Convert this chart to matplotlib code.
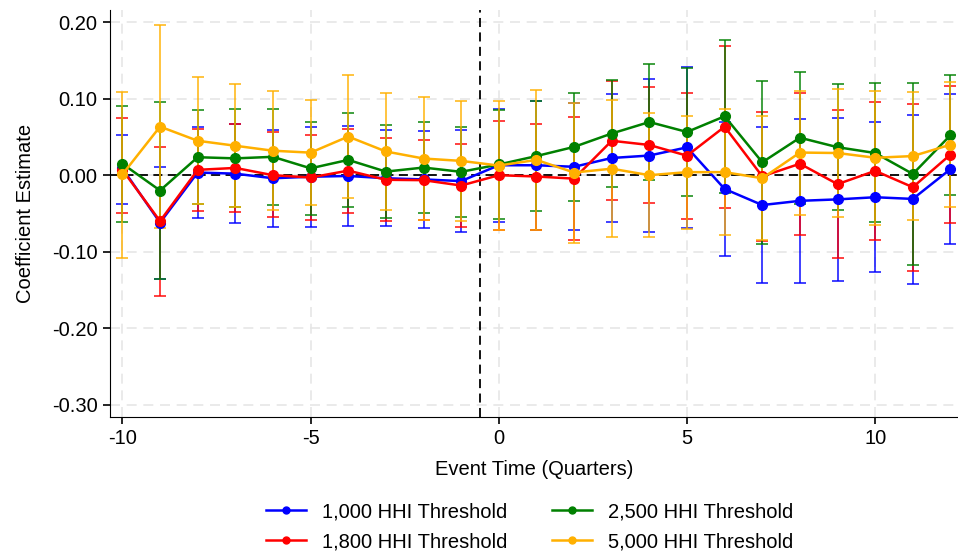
import numpy as np
import matplotlib
matplotlib.use("Agg")
import matplotlib.pyplot as plt
from matplotlib.lines import Line2D

plt.rcParams['font.family'] = ['Liberation Sans', 'DejaVu Sans']
plt.rcParams['axes.unicode_minus'] = False

event_time = list(range(-10, 13))

# point estimates
coef_1000 = [0.009, -0.062, 0.0035, 0.002, -0.004, -0.002, -0.001, -0.004, -0.0055, -0.0077,
             0.013, 0.013, 0.011, 0.0225, 0.0257, 0.0364, -0.018, -0.039, -0.0335, -0.0316,
             -0.0288, -0.031, 0.008]
coef_1800 = [0.007, -0.060, 0.007, 0.0095, 0.0, -0.003, 0.006, -0.006, -0.0065, -0.0135,
             0.0, -0.0017, -0.0045, 0.045, 0.0395, 0.0255, 0.0634, -0.0015, 0.015, -0.0117,
             0.0057, -0.0157, 0.027]
coef_2500 = [0.015, -0.020, 0.0235, 0.022, 0.024, 0.009, 0.020, 0.0047, 0.010, 0.0044,
             0.014, 0.025, 0.037, 0.0545, 0.0695, 0.0565, 0.077, 0.0169, 0.049, 0.0366,
             0.029, 0.0016, 0.0523]
coef_5000 = [0.001, 0.0635, 0.045, 0.0385, 0.032, 0.0295, 0.0505, 0.031, 0.0218, 0.0187,
             0.0126, 0.020, 0.0035, 0.0085, 0.0, 0.004, 0.004, -0.004, 0.0296, 0.029,
             0.0228, 0.025, 0.0399]

# confidence interval bounds
hi_1000 = [0.052, 0.011, 0.063, 0.0667, 0.059, 0.063, 0.064, 0.059, 0.058, 0.059,
           0.087, 0.097, 0.094, 0.106, 0.1255, 0.1416, 0.0697, 0.063, 0.074, 0.0745,
           0.0693, 0.0793, 0.106]
lo_1000 = [-0.037, -0.136, -0.056, -0.062, -0.0675, -0.0675, -0.0667, -0.066, -0.069, -0.074,
           -0.061, -0.071, -0.072, -0.061, -0.074, -0.0689, -0.1055, -0.141, -0.141, -0.1377,
           -0.1268, -0.142, -0.090]
hi_1800 = [0.0745, 0.037, 0.061, 0.0675, 0.056, 0.053, 0.061, 0.048, 0.0457, 0.0405,
           0.0706, 0.0675, 0.076, 0.1233, 0.115, 0.1076, 0.1695, 0.0828, 0.1076, 0.085,
           0.0958, 0.0932, 0.1163]
lo_1800 = [-0.050, -0.158, -0.047, -0.048, -0.055, -0.059, -0.049, -0.0597, -0.059, -0.0675,
           -0.071, -0.071, -0.085, -0.0327, -0.036, -0.0566, -0.0427, -0.0858, -0.0776, -0.1085,
           -0.0845, -0.1246, -0.0623]
hi_2500 = [0.091, 0.096, 0.085, 0.086, 0.087, 0.070, 0.081, 0.065, 0.0697, 0.063,
           0.085, 0.097, 0.1076, 0.125, 0.1455, 0.140, 0.1765, 0.1237, 0.135, 0.119,
           0.120, 0.120, 0.1307]
lo_2500 = [-0.061, -0.136, -0.038, -0.042, -0.039, -0.052, -0.041, -0.0558, -0.049, -0.0545,
           -0.0575, -0.047, -0.0335, -0.016, -0.0065, -0.027, -0.0227, -0.090, -0.037, -0.0457,
           -0.0614, -0.1168, -0.026]
hi_5000 = [0.109, 0.196, 0.128, 0.119, 0.110, 0.098, 0.131, 0.1076, 0.102, 0.097,
           0.097, 0.111, 0.095, 0.098, 0.081, 0.0775, 0.086, 0.077, 0.1107, 0.1128,
           0.110, 0.1085, 0.122]
lo_5000 = [-0.108, -0.069, -0.038, -0.042, -0.046, -0.039, -0.030, -0.0457, -0.059, -0.0597,
           -0.072, -0.071, -0.088, -0.081, -0.081, -0.0697, -0.0776, -0.085, -0.0514, -0.0545,
           -0.0645, -0.058, -0.0422]

series = [
    ("1,000 HHI Threshold", coef_1000, lo_1000, hi_1000, "#0000ff"),
    ("1,800 HHI Threshold", coef_1800, lo_1800, hi_1800, "#ff0000"),
    ("2,500 HHI Threshold", coef_2500, lo_2500, hi_2500, "#008000"),
    ("5,000 HHI Threshold", coef_5000, lo_5000, hi_5000, "#ffb000"),
]

fig = plt.figure(figsize=(9.58, 5.52), dpi=100)
ax = fig.add_axes([0.1148, 0.2446, 0.8852, 0.7374])

x = np.array(event_time)
for i, (label, coef, lo, hi, col) in enumerate(series):
    coef = np.array(coef)
    yerr = [coef - np.array(lo), np.array(hi) - coef]
    ax.errorbar(x, coef, yerr=yerr, fmt='none', ecolor=col, elinewidth=1.4,
                capsize=4, capthick=1.4, alpha=0.75, zorder=3 + i)
    ax.plot(x, coef, '-o', color=col, lw=1.8, ms=7, zorder=10 + i)

ax.axhline(0, color='black', ls=(0, (5, 3)), lw=1.3, zorder=2)
ax.axvline(-0.5, color='black', ls=(0, (5, 3)), lw=1.3, zorder=2)

ax.set_xlim(-10.33, 12.2)
ax.set_ylim(-0.316, 0.216)
ax.set_xticks([-10, -5, 0, 5, 10])
ax.set_yticks([-0.3, -0.2, -0.1, 0.0, 0.1, 0.2])
ax.set_yticklabels([f"{v:.2f}" for v in [-0.3, -0.2, -0.1, 0.0, 0.1, 0.2]])
ax.grid(True, color='#e6e6e6', ls=(0, (6, 4)), lw=1.2, zorder=0)
ax.set_axisbelow(True)

for s in ['top', 'right']:
    ax.spines[s].set_visible(False)
ax.tick_params(labelsize=14.5, length=5, width=1.2, colors='black', pad=4)
ax.set_xlabel("Event Time (Quarters)", fontsize=14.5, labelpad=8)
ax.set_ylabel("Coefficient Estimate", fontsize=14.5, labelpad=12)

handles = [Line2D([], [], color=c, lw=1.8, marker='o', ms=5) for _, _, _, _, c in series]
labels = [s[0] for s in series]
fig.legend(handles, labels, loc='center', bbox_to_anchor=(0.553, 0.046), ncol=2,
           frameon=False, fontsize=14.5, handlelength=2.0, columnspacing=2.2,
           labelspacing=0.55, handletextpad=0.8, borderpad=0.2)

fig.savefig("out.png", dpi=100)
